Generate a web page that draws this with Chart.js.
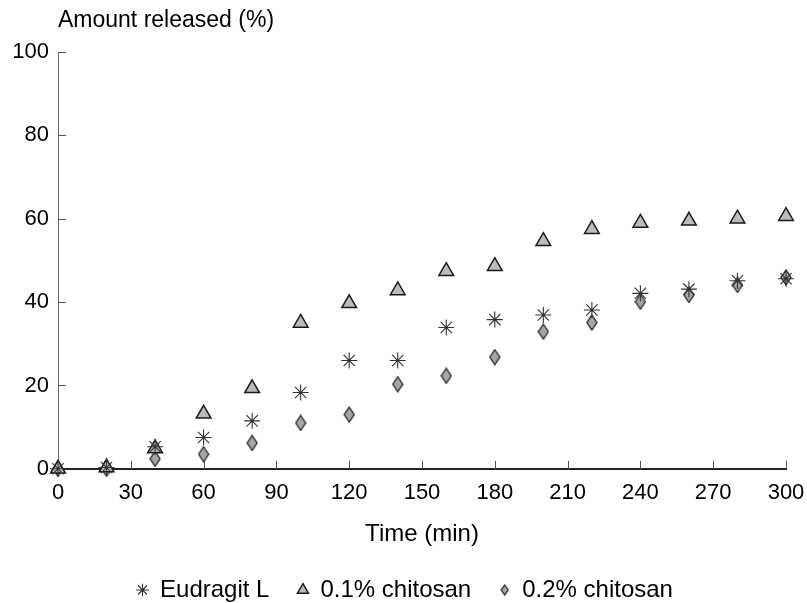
<!DOCTYPE html>
<html>
<head>
<meta charset="utf-8">
<script src="https://cdn.jsdelivr.net/npm/chart.js@4.4.1/dist/chart.umd.min.js"></script>
<style>
  html, body { margin: 0; padding: 0; background: #fff; }
</style>
</head>
<body>
<canvas id="releaseChart" width="807" height="603"></canvas>
<script>
// Time points (min) and amount released (%)
const times = [0, 20, 40, 60, 80, 100, 120, 140, 160, 180, 200, 220, 240, 260, 280, 300];
const eudragit = [0, 0.3, 5.3, 7.5, 11.5, 18.3, 26, 26, 33.9, 35.8, 36.9, 38.1, 42.1, 43.1, 45.1, 45.6];
const chitosan01 = [0, 0.3, 4.9, 13.2, 19.3, 35, 39.7, 42.8, 47.4, 48.6, 54.6, 57.5, 59, 59.5, 60, 60.6];
const chitosan02 = [0, 0, 2.4, 3.5, 6.2, 11, 13, 20.3, 22.3, 26.8, 32.9, 35.1, 40.1, 41.7, 44.1, 45.9];
const seriesNames = ['Eudragit L', '0.1% chitosan', '0.2% chitosan'];
const yTitle = 'Amount released (%)';
const xTitle = 'Time (min)';

const FONT = '"Liberation Sans", Arial, Helvetica, sans-serif';
Chart.defaults.font.family = FONT;
Chart.defaults.color = '#000';

// tall diamond marker, drawn on a small canvas
function makeDiamond(w, h) {
  const c = document.createElement('canvas');
  c.width = w + 2; c.height = h + 2;
  const g = c.getContext('2d');
  g.beginPath();
  g.moveTo(c.width / 2, 1);
  g.lineTo(c.width - 1, c.height / 2);
  g.lineTo(c.width / 2, c.height - 1);
  g.lineTo(1, c.height / 2);
  g.closePath();
  g.fillStyle = '#a6a6a6';
  g.fill();
  g.lineWidth = 1.3;
  g.strokeStyle = '#222';
  g.stroke();
  return c;
}
const diamondBig = makeDiamond(10, 15);
const diamondSmall = makeDiamond(7, 10);

const toPoints = arr => arr.map((v, i) => ({ x: times[i], y: v }));

// y title sits horizontally above the axis
const yTitlePlugin = {
  id: 'yTitle',
  afterDraw(chart) {
    const { ctx, chartArea } = chart;
    ctx.save();
    ctx.font = '23px ' + FONT;
    ctx.fillStyle = '#000';
    ctx.textBaseline = 'middle';
    ctx.fillText(yTitle, chartArea.left, 21);
    ctx.restore();
  }
};

// tick marks pointing into the plot
const innerTicks = {
  id: 'innerTicks',
  beforeDatasetsDraw(chart) {
    const { ctx, chartArea, scales } = chart;
    ctx.save();
    ctx.strokeStyle = '#555';
    ctx.lineWidth = 1;
    ctx.beginPath();
    scales.x.ticks.forEach(t => {
      if (t.value === 0) return;
      const px = Math.round(scales.x.getPixelForValue(t.value)) + 0.5;
      ctx.moveTo(px, chartArea.bottom);
      ctx.lineTo(px, chartArea.bottom - 8);
    });
    scales.y.ticks.forEach(t => {
      if (t.value === 0) return;
      const py = Math.round(scales.y.getPixelForValue(t.value)) + 0.5;
      ctx.moveTo(chartArea.left, py);
      ctx.lineTo(chartArea.left + 8, py);
    });
    ctx.stroke();
    ctx.restore();
  }
};

new Chart(document.getElementById('releaseChart'), {
  type: 'scatter',
  data: {
    datasets: [
      {
        label: seriesNames[0],
        data: toPoints(eudragit),
        pointStyle: 'star',
        pointRadius: 8,
        borderColor: '#333',
        backgroundColor: '#333',
        borderWidth: 1.1,
        clip: false
      },
      {
        label: seriesNames[1],
        data: toPoints(chitosan01),
        pointStyle: 'triangle',
        pointRadius: 8.5,
        borderColor: '#1a1a1a',
        backgroundColor: '#bcbcbc',
        borderWidth: 1.5,
        clip: false
      },
      {
        label: seriesNames[2],
        data: toPoints(chitosan02),
        pointStyle: diamondBig,
        borderColor: '#222',
        backgroundColor: '#a6a6a6',
        borderWidth: 1.3,
        clip: false
      }
    ]
  },
  options: {
    responsive: false,
    animation: false,
    layout: { padding: { top: 52, left: 12, right: 9, bottom: -9 } },
    scales: {
      x: {
        type: 'linear',
        min: 0,
        max: 300,
        ticks: { stepSize: 30, padding: 11, font: { size: 22 }, color: '#000' },
        grid: { display: false, drawTicks: false },
        border: { display: true, color: '#222', width: 2 },
        title: { display: true, text: xTitle, font: { size: 24 }, color: '#000', padding: { top: 3, bottom: 1 } },
        afterFit(scale) { scale.paddingLeft = 0; scale.paddingRight = 21; }
      },
      y: {
        min: 0,
        max: 100,
        ticks: { stepSize: 20, padding: 9, font: { size: 22 }, color: '#000' },
        grid: { display: false, drawTicks: false },
        border: { display: true, color: '#666', width: 1 },
        afterFit(scale) { scale.width = 46; scale.paddingTop = 0; scale.paddingBottom = 0; }
      }
    },
    plugins: {
      legend: {
        position: 'bottom',
        labels: {
          usePointStyle: true,
          boxWidth: 11,
          boxHeight: 9,
          padding: 28,
          font: { size: 24, lineHeight: 0.4 },
          color: '#000',
          generateLabels(chart) {
            const items = Chart.defaults.plugins.legend.labels.generateLabels(chart);
            items.forEach(it => { if (it.datasetIndex === 2) it.pointStyle = diamondSmall; });
            return items;
          }
        }
      },
      tooltip: { enabled: false }
    }
  },
  plugins: [yTitlePlugin, innerTicks]
});
</script>
</body>
</html>
